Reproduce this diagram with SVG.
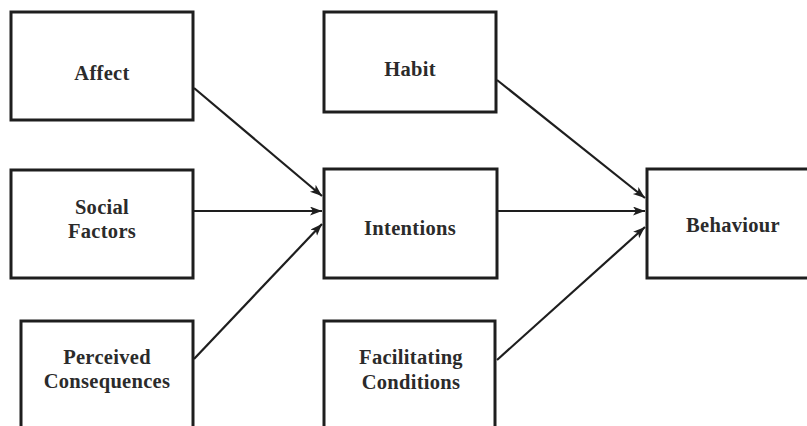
<svg xmlns="http://www.w3.org/2000/svg" width="807" height="426" viewBox="0 0 807 426">
  <style>
    .box { fill: #ffffff; stroke: #1e1e1e; stroke-width: 3; }
    .lbl { font-family: "Liberation Serif", "Times New Roman", serif; font-weight: bold; font-size: 20.5px; letter-spacing: 0.3px; fill: #2b2b2b; text-anchor: middle; }
    .edge { stroke: #1e1e1e; stroke-width: 2.2; fill: none; marker-end: url(#head); }
  </style>
  <defs>
    <marker id="head" markerUnits="userSpaceOnUse" markerWidth="14" markerHeight="10" refX="12" refY="4.5" orient="auto">
      <path d="M0,0 L12,4.5 L0,9 L3,4.5 Z" fill="#1e1e1e"/>
    </marker>
  </defs>
  <rect width="807" height="426" fill="#ffffff"/>

  <g id="affect">
    <rect class="box" x="11" y="12" width="182" height="108"/>
    <text class="lbl" x="102" y="80">Affect</text>
  </g>
  <g id="social-factors">
    <rect class="box" x="11" y="170" width="182" height="108"/>
    <text class="lbl" x="102" y="214">Social</text>
    <text class="lbl" x="102" y="238">Factors</text>
  </g>
  <g id="perceived-consequences">
    <rect class="box" x="21" y="321" width="172" height="112"/>
    <text class="lbl" x="107" y="364">Perceived</text>
    <text class="lbl" x="107" y="388">Consequences</text>
  </g>
  <g id="habit">
    <rect class="box" x="324" y="12" width="172" height="100"/>
    <text class="lbl" x="410" y="76">Habit</text>
  </g>
  <g id="intentions">
    <rect class="box" x="324" y="169" width="173" height="109"/>
    <text class="lbl" x="410" y="235">Intentions</text>
  </g>
  <g id="facilitating-conditions">
    <rect class="box" x="324" y="321" width="171" height="112"/>
    <text class="lbl" x="411" y="364">Facilitating</text>
    <text class="lbl" x="411" y="389">Conditions</text>
  </g>
  <g id="behaviour">
    <rect class="box" x="647" y="169" width="170" height="109"/>
    <text class="lbl" x="733" y="232">Behaviour</text>
  </g>

  <g id="connectors">
    <line class="edge" x1="194" y1="88" x2="322" y2="196"/>
    <line class="edge" x1="194" y1="211" x2="322" y2="211"/>
    <line class="edge" x1="194" y1="359" x2="322" y2="224"/>
    <line class="edge" x1="497" y1="80" x2="645" y2="198"/>
    <line class="edge" x1="497" y1="211" x2="645" y2="211"/>
    <line class="edge" x1="497" y1="360" x2="645" y2="227"/>
  </g>
</svg>
